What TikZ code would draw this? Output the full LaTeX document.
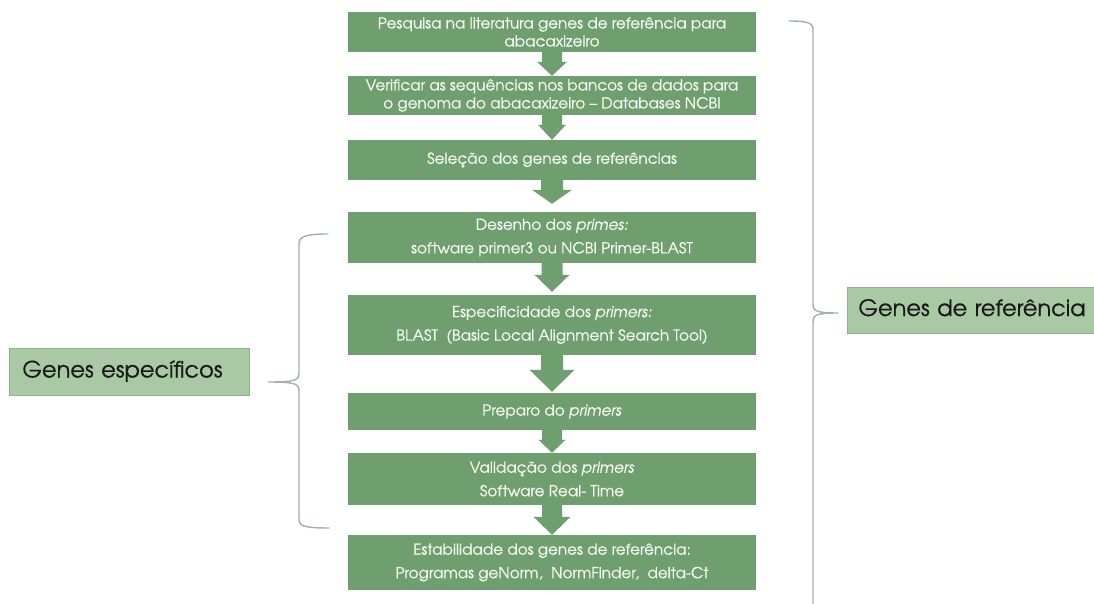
\documentclass[tikz,border=0pt]{standalone}
\usepackage{fontspec}
\setmainfont{TeX Gyre Adventor}
\usetikzlibrary{calc}
\definecolor{boxgreen}{HTML}{6F9F6F}
\definecolor{labelgreen}{HTML}{A9C8A4}
\definecolor{labelborder}{HTML}{8FB18A}
\definecolor{bracegray}{HTML}{A2B2A9}
\definecolor{boxtext}{HTML}{F5F8F3}
% #1 from node, #2 to node, #3 half shaft, #4 half head, #5 head length, #6 gap above target
\newcommand\blockarr[6]{%
  \fill[boxgreen] let \p1=(#1.south), \p2=(#2.north) in
  (\x1-#3pt,\y1+1pt) -- (\x1+#3pt,\y1+1pt) -- (\x1+#3pt,\y2+#6pt+#5pt)
  -- (\x1+#4pt,\y2+#6pt+#5pt) -- (\x1,\y2+#6pt) -- (\x1-#4pt,\y2+#6pt+#5pt)
  -- (\x1-#3pt,\y2+#6pt+#5pt) -- cycle;}
\begin{document}
\begin{tikzpicture}[x=1pt,y=1pt,
  stepbox/.style={fill=boxgreen, text=boxtext, minimum width=408pt, align=center,
    inner sep=0pt, font=\fontsize{15.2}{23.5}\selectfont\addfontfeature{FakeBold=0.6}},
  tightbox/.style={stepbox, font=\fontsize{15.2}{18}\selectfont\addfontfeature{FakeBold=0.6}},
  labelbox/.style={fill=labelgreen, draw=labelborder, line width=0.8pt, text=black!90,
    align=left, inner xsep=13pt, inner ysep=0pt, anchor=west,
    font=\fontsize{22.5}{26}\selectfont\addfontfeature{FakeBold=0.5}, text height=16pt, text depth=4pt},
  bracestyle/.style={draw=bracegray, line width=1.4pt, line cap=round}]
\useasboundingbox (0,0) rectangle (1094,603);
\fill[white] (0,0) rectangle (1094,603);

\node[tightbox, minimum height=40pt] (b1) at (552,571)
  {Pesquisa na literatura genes de referência para\\abacaxizeiro};
\node[tightbox, minimum height=39pt] (b2) at (552,507.5)
  {Verificar as sequências nos bancos de dados para\\o genoma do abacaxizeiro – Databases NCBI};
\node[stepbox, minimum height=40pt] (b3) at (552,443)
  {Seleção dos genes de referências};
\node[stepbox, minimum height=51pt] (b4) at (552,365.5)
  {Desenho dos \textit{primes:}\\software primer3 ou NCBI Primer-BLAST};
\node[stepbox, minimum height=60pt] (b5) at (552,278)
  {Especificidade dos \textit{primers:}\\BLAST\ \ (Basic Local Alignment Search Tool)};
\node[stepbox, minimum height=37pt] (b6) at (552,191.5)
  {Preparo do \textit{primers}};
\node[stepbox, minimum height=52pt] (b7) at (552,124)
  {Validação dos \textit{primers}\\Software Real- Time};
\node[stepbox, minimum height=55pt] (b8) at (552,40.5)
  {Estabilidade dos genes de referência:\\Programas geNorm,\ \ NormFinder,\ \ delta-Ct};

\blockarr{b1}{b2}{10}{15}{14}{0}
\blockarr{b2}{b3}{10}{14}{15}{0}
\blockarr{b3}{b4}{11}{20}{14}{8}
\blockarr{b4}{b5}{10.5}{17.5}{17}{3}
\blockarr{b5}{b6}{11}{22.5}{22}{1}
\blockarr{b6}{b7}{10}{13.5}{13}{0}
\blockarr{b7}{b8}{10}{18.5}{18}{0}

\node[labelbox, text width=214pt, minimum height=47pt] (ge) at (9,231.5)
  {Genes específicos};
\node[labelbox, text width=245pt, minimum height=46pt, inner xsep=11pt] (gr) at (847,293)
  {Genes de referência};

% left brace
\coordinate (lt) at (268,221);
\draw[bracestyle] (328,369) .. controls (304,369) and (299,366) .. (299,359)
  -- (299,230) .. controls (299,223) and (296,221) .. (lt)
  .. controls (296,221) and (299,219) .. (299,212)
  -- (299,84) .. controls (299,77) and (304,75) .. (329,75);
% right brace
\coordinate (rt) at (838,290);
\draw[bracestyle] (789,582) .. controls (808,582) and (813,580) .. (813,573)
  -- (813,299) .. controls (813,292) and (816,290) .. (rt)
  .. controls (816,290) and (813,288) .. (813,281)
  -- (813,-2);
\end{tikzpicture}
\end{document}
